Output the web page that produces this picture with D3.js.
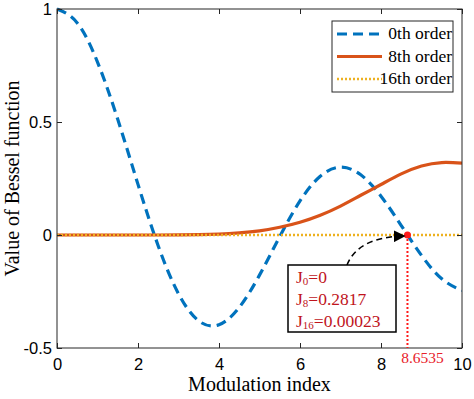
<!DOCTYPE html>
<html>
<head>
<meta charset="utf-8">
<script src="https://cdn.jsdelivr.net/npm/d3@7"></script>
<style>
body { margin: 0; background: #fff; }
</style>
</head>
<body>
<svg id="chart" width="474" height="399"></svg>
<script>
// values (step 0.5)
var xs = [0, 0.5, 1, 1.5, 2, 2.5, 3, 3.5, 4, 4.5, 5, 5.5, 6, 6.5, 7, 7.5, 8, 8.5, 9, 9.5, 10];
var j0 = [1, 0.9385, 0.7652, 0.5118, 0.2239, -0.0484, -0.2601, -0.3801, -0.3971, -0.3205, -0.1776,
	-0.0068, 0.1506, 0.2601, 0.3001, 0.2663, 0.1717, 0.0419, -0.0903, -0.1939, -0.2459];
var j8 = [0, 0, 0, 0, 0.00002, 0.0001, 0.0005, 0.0015, 0.0040, 0.0093, 0.0184,
	0.0343, 0.0565, 0.0875, 0.1280, 0.1758, 0.2235, 0.2704, 0.3051, 0.3206, 0.3179];
var j16 = [0, 0, 0, 0, 0, 0, 0, 0, 0, 0, 0,
	0, 0, 0, 0, 0, 0.00003, 0.0001, 0.0003, 0.0004, 0.0005];

var seriesNames = ['0th order', '8th order', '16th order'];
var xTicks = [0, 2, 4, 6, 8, 10];
var yTicks = [-0.5, 0, 0.5, 1];

var zeroX = 8.6535;
var noteLines = [['J', '0', '=0'], ['J', '8', '=0.2817'], ['J', '16', '=0.00023']];

var svg = d3.select('#chart');
var mLeft = 57, mRight = 462, mTop = 9, mBottom = 348;

var x = d3.scaleLinear().domain([0, 10]).range([mLeft, mRight]);
var y = d3.scaleLinear().domain([-0.5, 1]).range([mBottom, mTop]);
var frameColor = '#262626';
var serif = 'Liberation Serif, Times New Roman, serif';

//clip for the curves
svg.append('clipPath').attr('id', 'plotclip')
	.append('rect')
	.attr('x', mLeft).attr('y', mTop - 2)
	.attr('width', mRight - mLeft).attr('height', mBottom - mTop + 2);

var line = d3.line()
	.x(function (d) { return x(d[0]); })
	.y(function (d) { return y(d[1]); })
	.curve(d3.curveNatural);

var series = [
	{ vals: j0, color: '#0072BD', width: 3.2, dash: '10,6' },
	{ vals: j8, color: '#D95319', width: 3.2, dash: null },
	{ vals: j16, color: '#EDB120', width: 2.5, dash: '2,2' }
];

var g = svg.append('g').attr('clip-path', 'url(#plotclip)');
series.forEach(function (s) {
	var pts = xs.map(function (v, i) { return [v, s.vals[i]]; });
	g.append('path')
		.attr('d', line(pts))
		.attr('fill', 'none')
		.attr('stroke', s.color)
		.attr('stroke-width', s.width)
		.attr('stroke-dasharray', s.dash);
});

//axes (ticks inward, box on)
var tickFont = function (sel) {
	sel.selectAll('text')
		.attr('font-family', 'Liberation Sans, Arial, sans-serif')
		.attr('font-size', 16.5)
		.attr('fill', '#000');
	sel.selectAll('line').attr('stroke', frameColor);
	sel.select('.domain').remove();
};

svg.append('g')
	.attr('transform', 'translate(0,' + mBottom + ')')
	.call(d3.axisBottom(x).tickValues(xTicks).tickSize(-5).tickPadding(10).tickFormat(d3.format('d')))
	.call(tickFont);
svg.append('g')
	.attr('transform', 'translate(0,' + mTop + ')')
	.call(d3.axisTop(x).tickValues(xTicks).tickSize(-5).tickFormat(''))
	.call(tickFont);
svg.append('g')
	.attr('transform', 'translate(' + mLeft + ',0)')
	.call(d3.axisLeft(y).tickValues(yTicks).tickSize(-5).tickPadding(5).tickFormat(function (d) { return String(d); }))
	.call(tickFont);
svg.append('g')
	.attr('transform', 'translate(' + mRight + ',0)')
	.call(d3.axisRight(y).tickValues(yTicks).tickSize(-5).tickFormat(''))
	.call(tickFont);

svg.append('rect')
	.attr('x', mLeft).attr('y', mTop)
	.attr('width', mRight - mLeft).attr('height', mBottom - mTop)
	.attr('fill', 'none')
	.attr('stroke', frameColor)
	.attr('stroke-width', 1);

//axis titles
svg.append('text')
	.attr('x', (mLeft + mRight) / 2)
	.attr('y', 391)
	.attr('text-anchor', 'middle')
	.attr('font-family', serif)
	.attr('font-size', 20)
	.text('Modulation index');
svg.append('text')
	.attr('transform', 'translate(19,' + (mTop + mBottom) / 2 + ') rotate(-90)')
	.attr('text-anchor', 'middle')
	.attr('font-family', serif)
	.attr('font-size', 20)
	.text('Value of Bessel function');

//legend
var lg = svg.append('g');
lg.append('rect')
	.attr('x', 332).attr('y', 21)
	.attr('width', 121).attr('height', 71)
	.attr('fill', '#fff')
	.attr('stroke', frameColor)
	.attr('stroke-width', 1);
seriesNames.forEach(function (name, i) {
	var yy = 34 + i * 22.5;
	var s = series[i];
	lg.append('line')
		.attr('x1', 337).attr('x2', 382)
		.attr('y1', yy).attr('y2', yy)
		.attr('stroke', s.color)
		.attr('stroke-width', s.width)
		.attr('stroke-dasharray', s.dash);
	lg.append('text')
		.attr('x', 452).attr('y', yy + 5)
		.attr('text-anchor', 'end')
		.attr('font-family', serif)
		.attr('font-size', 17.5)
		.text(name);
});

//annotation at the first zero of J0 after x=8
var px = x(zeroX), py = y(0);
svg.append('line')
	.attr('x1', px).attr('x2', px)
	.attr('y1', py).attr('y2', mBottom)
	.attr('stroke', '#ff1a1a')
	.attr('stroke-width', 2)
	.attr('stroke-dasharray', '2,2');
svg.append('circle')
	.attr('cx', px).attr('cy', py)
	.attr('r', 3.5)
	.attr('fill', '#ff1a1a');
svg.append('text')
	.attr('x', px + 15).attr('y', 363)
	.attr('text-anchor', 'middle')
	.attr('font-family', serif)
	.attr('font-size', 15.5)
	.attr('fill', '#e8202a')
	.text('8.6535');

svg.append('defs').append('marker')
	.attr('id', 'arrowhead')
	.attr('viewBox', '0 0 10 10')
	.attr('refX', 9).attr('refY', 5)
	.attr('markerWidth', 12).attr('markerHeight', 12)
	.attr('markerUnits', 'userSpaceOnUse')
	.attr('orient', 'auto')
	.append('path')
	.attr('d', 'M0,0L10,5L0,10z')
	.attr('fill', '#000');

var bx = 288, by = 265;
svg.append('path')
	.attr('d', 'M' + (bx + 59) + ',' + by + 'Q' + (bx + 70) + ',' + (py + 2) + ' ' + (px - 3) + ',' + (py + 1))
	.attr('fill', 'none')
	.attr('stroke', '#000')
	.attr('stroke-width', 1.6)
	.attr('stroke-dasharray', '6,4')
	.attr('marker-end', 'url(#arrowhead)');

svg.append('rect')
	.attr('x', bx).attr('y', by)
	.attr('width', 108).attr('height', 67)
	.attr('fill', '#fff')
	.attr('stroke', '#000')
	.attr('stroke-width', 1.5);
noteLines.forEach(function (ln, i) {
	var t = svg.append('text')
		.attr('x', bx + 8).attr('y', by + 18 + i * 22)
		.attr('font-family', serif)
		.attr('font-size', 17.5)
		.attr('fill', '#c0141c');
	t.append('tspan').text(ln[0]);
	t.append('tspan').attr('font-size', 11).attr('dy', 2).text(ln[1]);
	t.append('tspan').attr('dy', -2).text(ln[2]);
});
</script>
</body>
</html>
